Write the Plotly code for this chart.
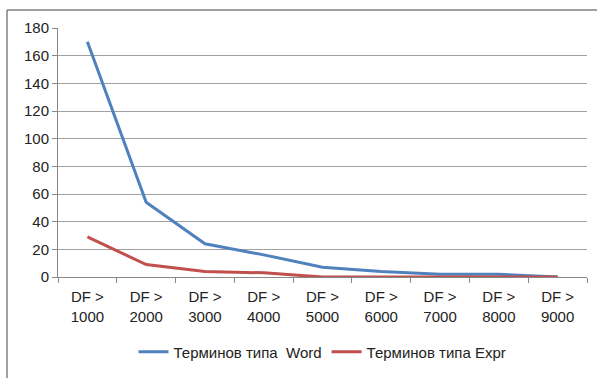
import plotly.graph_objects as go

categories = ["DF ><br>1000", "DF ><br>2000", "DF ><br>3000", "DF ><br>4000", "DF ><br>5000",
              "DF ><br>6000", "DF ><br>7000", "DF ><br>8000", "DF ><br>9000"]
word_values = [170, 54, 24, 16, 7, 4, 2, 2, 0]
expr_values = [29, 9, 4, 3, 0, 0, 0, 0, 0]
series_names = ["Терминов типа  Word", "Терминов типа Expr"]

W, H = 597, 378
L, R, T, B = 58, 10, 28, 101
pw, ph = W - L - R, H - T - B


def px(x):
    return (x - L) / pw


def py(y):
    return (H - B - y) / ph


fig = go.Figure()
fig.add_trace(go.Scatter(x=categories, y=word_values, mode="lines", name=series_names[0],
                         line=dict(color="#4F81BD", width=3)))
fig.add_trace(go.Scatter(x=categories, y=expr_values, mode="lines", name=series_names[1],
                         line=dict(color="#C0504D", width=3)))

frame = dict(color="#808080", width=1.5)
fig.update_layout(
    width=W, height=H,
    margin=dict(l=L, r=R, t=T, b=B),
    paper_bgcolor="white", plot_bgcolor="white",
    font=dict(family="Liberation Sans, Arial, sans-serif", size=15, color="#222"),
    showlegend=True,
    legend=dict(orientation="h", x=0.5, xanchor="center", y=py(352), yanchor="middle",
                font=dict(size=15), itemwidth=30, tracegroupgap=0),
    xaxis=dict(type="category", tickson="boundaries", ticks="outside", ticklen=5,
               tickcolor="#888", showline=True, linecolor="#888", showgrid=False,
               range=[-0.5, 8.5], tickfont=dict(size=15), automargin=False,
               ticklabelstandoff=6),
    yaxis=dict(range=[0, 180], dtick=20, showgrid=True, gridcolor="#A0A0A0", gridwidth=1,
               showline=True, linecolor="#888", ticks="outside", ticklen=5, tickcolor="#888",
               zeroline=False, tickfont=dict(size=15), automargin=False),
    shapes=[
        dict(type="line", xref="paper", yref="paper", x0=px(7), x1=px(W), y0=py(10), y1=py(10),
             line=frame, layer="above"),
        dict(type="line", xref="paper", yref="paper", x0=px(7), x1=px(7), y0=py(10), y1=py(H),
             line=frame, layer="above"),
    ],
)

fig.write_html("out.html", config={"displayModeBar": False},
               post_script="document.body.style.margin='0';")
